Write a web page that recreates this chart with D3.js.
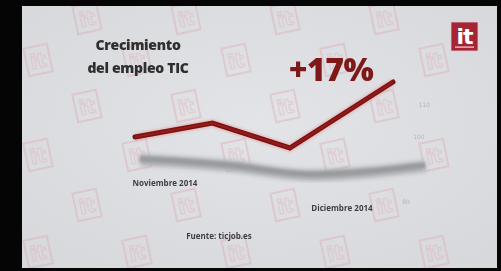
<!DOCTYPE html>
<html><head><meta charset="utf-8">
<script src="https://cdn.jsdelivr.net/npm/d3@7"></script>
<style>html,body{margin:0;padding:0;background:#000;}svg{display:block;}</style>
</head><body>
<svg id="c" width="501" height="271"></svg>
<script>
// ---- data ----
const weeks = [0, 3, 6, 10];                       // position along time axis
const empleoTIC = [100, 104.3, 96.6, 117];         // red series (index)
const sombra = [93.0, 91.2, 88.2, 91.0];           // gray series (index)
const tickValues = [110, 100, 90, 80];
const tickLabels = ["110", "100", "90", "80"];
const xLabels = ["Noviembre 2014", "Diciembre 2014"];
const titleLines = ["Crecimiento", "del empleo TIC"];
const growthLabel = "+17%";
const source = "Fuente: ticjob.es";

const W = 501, H = 271;
const svg = d3.select("#c");
const defs = svg.append("defs");

const bg = defs.append("radialGradient").attr("id","bg").attr("cx","50%").attr("cy","45%").attr("r","70%");
bg.append("stop").attr("offset","0%").attr("stop-color","#e3e4e7");
bg.append("stop").attr("offset","100%").attr("stop-color","#d7d8dc");
const blur = defs.append("filter").attr("id","blur").attr("x","-10%").attr("y","-50%").attr("width","120%").attr("height","200%");
blur.append("feGaussianBlur").attr("stdDeviation", 2.2);
const blur2 = defs.append("filter").attr("id","blur2").attr("x","-10%").attr("y","-50%").attr("width","120%").attr("height","200%");
blur2.append("feGaussianBlur").attr("stdDeviation", 0.8);
const soft = defs.append("filter").attr("id","soft");
soft.append("feGaussianBlur").attr("stdDeviation", 0.7);

// frame
svg.append("rect").attr("width",W).attr("height",H).attr("fill","#050505");
const panel = {x:22, y:6, w:475, h:262};
svg.append("rect").attr("x",panel.x).attr("y",panel.y).attr("width",panel.w).attr("height",panel.h).attr("fill","url(#bg)");

const clip = defs.append("clipPath").attr("id","pc");
clip.append("rect").attr("x",panel.x).attr("y",panel.y).attr("width",panel.w).attr("height",panel.h);
const g = svg.append("g").attr("clip-path","url(#pc)");

// watermarks
const wmRows = [18, 60, 106, 155, 205, 252];
const wm = g.append("g").attr("opacity",0.4).attr("filter","url(#soft)");
wmRows.forEach((ry,i) => {
  const x0 = (i % 2 === 0) ? 87 : 38;
  for (let k = 0; k < 5; k++) {
    const cx = x0 + k*99;
    if (cx > 482) continue;
    const m = wm.append("g").attr("transform",`translate(${cx},${ry}) rotate(-12)`);
    m.append("rect").attr("x",-12).attr("y",-14).attr("width",24).attr("height",28)
      .attr("fill","none").attr("stroke","#dba9b0").attr("stroke-width",2);
    m.append("text").attr("x",0).attr("y",8).attr("text-anchor","middle")
      .attr("font-family","DejaVu Sans").attr("font-weight","bold").attr("font-size",20)
      .attr("fill","none").attr("stroke","#dfb3b9").attr("stroke-width",1.4).text("it");
  }
});

// scales
const y = d3.scaleLinear().domain([100, 117]).range([137, 82]);
const xRed = d3.scaleLinear().domain([0, 10]).range([135, 393]);
const xGray = d3.scaleLinear().domain([0, 10]).range([140, 425]);

// faint perspective tick labels
g.selectAll("text.tick").data(tickValues).enter().append("text")
  .attr("class","tick")
  .attr("x", (d) => 402 + (y(d) - 203) * -0.17)
  .attr("y", (d) => y(d) + 2)
  .attr("font-family","DejaVu Sans").attr("font-size",6)
  .attr("fill","#a3a7ac").attr("opacity",0.7)
  .text((d,i) => tickLabels[i]);

// gray shadow line
const lineG = d3.line().x((d,i)=>xGray(weeks[i])).y(d=>y(d)).curve(d3.curveMonotoneX);
g.append("path").datum(sombra).attr("d",lineG).attr("fill","none")
  .attr("stroke","#a9abaf").attr("stroke-width",11).attr("filter","url(#blur)");
g.append("path").datum(sombra).attr("d",lineG).attr("fill","none")
  .attr("stroke","#999b9f").attr("stroke-width",5).attr("filter","url(#blur2)")
  .attr("transform","translate(0,-1)");

// red line
const lineR = d3.line().x((d,i)=>xRed(weeks[i])).y(d=>y(d));
g.append("path").datum(empleoTIC).attr("d",lineR).attr("fill","none")
  .attr("stroke","#e59a9a").attr("stroke-width",8).attr("opacity",0.5).attr("filter","url(#blur2)");
g.append("path").datum(empleoTIC).attr("d",lineR).attr("fill","none")
  .attr("stroke","#7a1212").attr("stroke-width",5).attr("stroke-linejoin","miter").attr("stroke-linecap","round");
g.append("path").datum(empleoTIC).attr("d",lineR).attr("fill","none")
  .attr("stroke","#941c1c").attr("stroke-width",2).attr("stroke-linejoin","miter");

// title
g.selectAll("text.title").data(titleLines).enter().append("text")
  .attr("class","title").attr("x",138).attr("y",(d,i)=>50 + i*23)
  .attr("text-anchor","middle").attr("font-family","Open Sans").attr("font-weight","800")
  .attr("font-size",14).attr("fill","#2f2f2f").attr("letter-spacing",-0.3).text(d=>d);

// +17%
g.append("text").attr("x",331).attr("y",81).attr("text-anchor","middle")
  .attr("font-family","Open Sans").attr("font-weight","800").attr("font-size",32)
  .attr("fill","#7f1818").attr("letter-spacing",-0.5).text(growthLabel);

// x labels
const xLabelPos = [{x:165, y:186}, {x:342, y:211}];
g.selectAll("text.xl").data(xLabels).enter().append("text")
  .attr("class","xl").attr("x",(d,i)=>xLabelPos[i].x).attr("y",(d,i)=>xLabelPos[i].y)
  .attr("text-anchor","middle").attr("font-family","Open Sans").attr("font-weight","bold")
  .attr("font-size",8).attr("fill","#3e3f44").text(d=>d);

// source
g.append("text").attr("x",219).attr("y",239).attr("text-anchor","middle")
  .attr("font-family","Open Sans").attr("font-weight","bold").attr("font-size",8)
  .attr("fill","#3e3f44").text(source);

// logo
const logo = g.append("g").attr("transform","translate(451,22)");
logo.append("rect").attr("width",27).attr("height",29).attr("fill","#a42536")
  .attr("stroke","#e9c9cd").attr("stroke-width",0.8);
logo.append("text").attr("x",13.5).attr("y",22).attr("text-anchor","middle")
  .attr("font-family","DejaVu Sans").attr("font-weight","bold").attr("font-size",22)
  .attr("fill","#ffffff").attr("letter-spacing",-1).text("it");
logo.append("rect").attr("x",4).attr("y",24.5).attr("width",19).attr("height",1.2).attr("fill","#f1d6d9");
</script>
</body></html>
